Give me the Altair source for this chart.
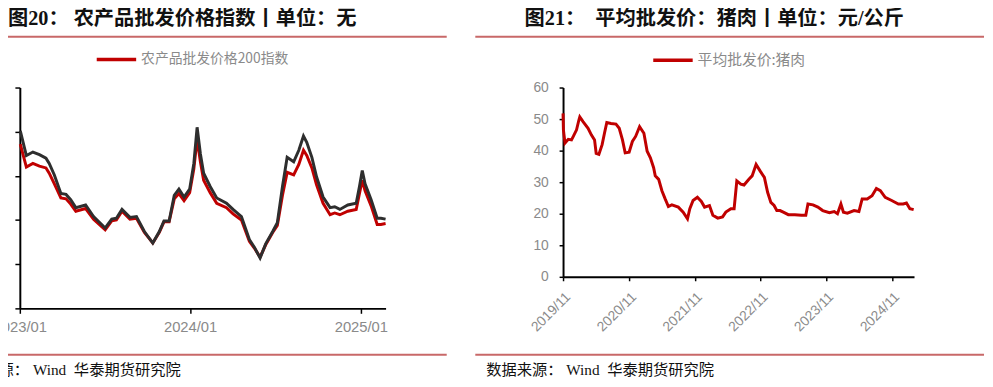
import altair as alt
import pandas as pd

# ---------------- data: left panel (农产品批发价格200指数) ----------------
idx_dates = [
    "2023-01-02", "2023-01-15", "2023-01-29", "2023-02-12", "2023-02-26", "2023-03-05",
    "2023-03-16", "2023-03-30", "2023-04-10", "2023-04-20", "2023-05-01", "2023-05-22",
    "2023-06-08", "2023-07-03", "2023-07-17", "2023-07-27", "2023-08-08", "2023-08-25",
    "2023-09-08", "2023-09-25", "2023-10-13", "2023-10-27", "2023-11-06", "2023-11-17",
    "2023-11-28", "2023-12-08", "2023-12-19", "2023-12-31", "2024-01-09", "2024-01-16",
    "2024-01-23", "2024-01-30", "2024-02-13", "2024-02-27", "2024-03-19", "2024-04-02",
    "2024-04-20", "2024-05-07", "2024-05-18", "2024-05-30", "2024-06-11", "2024-06-26",
    "2024-07-06", "2024-07-17", "2024-07-27", "2024-08-10", "2024-08-21", "2024-08-31",
    "2024-09-07", "2024-09-18", "2024-09-28", "2024-10-12", "2024-10-27", "2024-11-06",
    "2024-11-17", "2024-12-04", "2024-12-22", "2024-12-29", "2025-01-04", "2025-01-10",
    "2025-01-23", "2025-02-05", "2025-02-13", "2025-02-23",
]
idx_red = [
    128.6, 126.0, 126.4, 126.1, 125.9, 125.3,
    124.1, 122.5, 122.4, 121.8, 121.0, 121.3,
    120.1, 118.9, 119.9, 120.0, 121.0, 120.1,
    120.2, 118.6, 117.4, 118.6, 119.8, 119.8,
    122.4, 123.0, 122.2, 123.1, 125.8, 129.2,
    126.6, 124.5, 123.1, 121.9, 121.4, 120.7,
    120.0, 117.6, 116.8, 115.8, 117.2, 118.6,
    119.4, 122.8, 125.4, 125.1, 126.3, 127.9,
    127.3, 125.9, 124.0, 121.9, 120.6, 120.8,
    120.6, 121.0, 121.2, 123.0, 124.5, 123.3,
    121.6, 119.5, 119.5, 119.6,
]
idx_dark = [
    130.1, 127.3, 127.7, 127.4, 127.0, 126.4,
    125.1, 123.0, 122.9, 122.3, 121.4, 121.7,
    120.4, 119.1, 120.1, 120.2, 121.2, 120.3,
    120.4, 118.7, 117.4, 118.7, 119.9, 119.9,
    122.8, 123.5, 122.6, 123.5, 126.4, 130.5,
    127.5, 125.3, 123.8, 122.5, 121.9, 121.2,
    120.4, 117.8, 116.9, 115.7, 117.3, 118.7,
    119.7, 123.8, 127.1, 126.6, 127.9, 129.5,
    128.8, 127.1, 124.9, 122.6, 121.4, 121.5,
    121.2, 121.7, 121.9, 123.8, 125.6, 124.1,
    122.3, 120.2, 120.2, 120.1,
]
idx_yticks = [110, 115, 120, 125, 130, 135]

# ---------------- data: right panel (平均批发价:猪肉) ----------------
pork_dates = [
    "2019-11-01", "2019-11-03", "2019-11-12", "2019-11-30", "2019-12-18", "2019-12-28",
    "2020-01-15", "2020-01-28", "2020-02-02", "2020-02-20", "2020-03-19", "2020-04-06",
    "2020-04-24", "2020-05-03", "2020-05-18", "2020-06-05", "2020-06-18", "2020-07-01",
    "2020-07-24", "2020-08-21", "2020-09-08", "2020-09-26", "2020-10-11", "2020-11-02",
    "2020-11-20", "2020-12-08", "2020-12-30", "2021-01-23", "2021-02-10", "2021-02-28",
    "2021-03-18", "2021-03-27", "2021-04-15", "2021-05-03", "2021-05-21", "2021-06-08",
    "2021-06-27", "2021-08-02", "2021-08-29", "2021-09-22", "2021-10-05", "2021-10-23",
    "2021-11-16", "2021-12-08", "2021-12-26", "2022-01-22", "2022-02-10", "2022-03-09",
    "2022-04-05", "2022-04-23", "2022-05-21", "2022-06-08", "2022-06-23", "2022-07-15",
    "2022-08-02", "2022-08-29", "2022-09-16", "2022-10-08", "2022-10-31", "2022-11-23",
    "2022-12-11", "2022-12-29", "2023-01-16", "2023-01-31", "2023-02-18", "2023-03-08",
    "2023-04-05", "2023-05-11", "2023-06-17", "2023-07-11", "2023-07-23", "2023-08-20",
    "2023-09-16", "2023-10-13", "2023-11-19", "2023-12-16", "2024-01-03", "2024-01-22",
    "2024-02-05", "2024-02-27", "2024-04-04", "2024-05-01", "2024-05-19", "2024-06-16",
    "2024-07-13", "2024-08-06", "2024-08-28", "2024-09-24", "2024-10-30", "2024-12-06",
    "2025-01-02", "2025-01-20", "2025-02-08", "2025-03-01",
]
pork_price = [
    51.8, 46.6, 42.4, 43.6, 43.4, 44.5,
    46.6, 49.7, 50.7, 49.2, 47.1, 45.0,
    43.4, 39.1, 38.8, 41.9, 45.5, 48.9,
    48.6, 48.4, 47.1, 43.4, 39.3, 39.5,
    42.9, 44.5, 47.6, 45.5, 39.8, 37.7,
    34.6, 32.0, 30.9, 27.3, 24.7, 22.3,
    22.8, 22.1, 20.5, 18.4, 21.6, 24.2,
    25.2, 23.9, 22.1, 22.6, 19.5, 18.6,
    19.0, 20.5, 21.6, 21.6, 30.4, 29.4,
    29.1, 30.9, 32.0, 35.6, 33.5, 31.5,
    26.8, 23.6, 22.6, 21.0, 21.0, 20.5,
    19.7, 19.7, 19.5, 19.5, 23.1, 22.8,
    22.1, 21.0, 20.3, 20.7, 20.0, 23.1,
    20.5, 20.2, 21.0, 20.7, 24.7, 24.7,
    25.7, 28.0, 27.3, 25.2, 24.2, 23.1,
    23.1, 23.4, 21.6, 21.3,
]
pork_yticks = [0, 10, 20, 30, 40, 50, 60]
pork_xtick_years = [2019, 2020, 2021, 2022, 2023, 2024]

# ---------------- texts (\u00a0 keeps the wide gaps) ----------------
NB = "\u00a0"
LEFT_TITLE = "图20：" + NB + "农产品批发价格指数丨单位：无"
RIGHT_TITLE = "图21：" + NB * 2 + "平均批发价：猪肉丨单位：元/公斤"
SOURCE = "数据来源：" + NB + "Wind" + NB * 2 + "华泰期货研究院"
LEFT_SERIES = "农产品批发价格200指数"
RIGHT_SERIES = "平均批发价:猪肉"

# ---------------- styles ----------------
RED = "#c00000"
DARK = "#2e2e2e"
RULE = "#c86868"
GRAY = "#8a8a8a"
TITLE_FONT = "Liberation Serif, Noto Sans CJK SC"
AXIS_FONT = "Liberation Sans"
CJK_FONT = "Noto Sans CJK SC"
DATE_LABEL = "utcFormat(datum.value, '%Y/%m')"

LW, LH = 371, 224   # left plot area
RW, RH = 356, 192   # right plot area


def one(text=""):
    return pd.DataFrame({"t": [text]})


def decorations(title, title_x, rule_x1, rule_x2, src_x, anchor_x):
    title_mark = alt.Chart(one(title)).mark_text(
        align="left", baseline="middle", font=TITLE_FONT, fontSize=20.5,
        fontWeight="bold", color="#111111"
    ).encode(x=alt.value(title_x), y=alt.value(-69), text="t:N")
    top_rule = alt.Chart(one()).mark_rule(color=RULE, strokeWidth=2).encode(
        x=alt.value(rule_x1), x2=alt.value(rule_x2), y=alt.value(-51.5))
    bottom_rule = alt.Chart(one()).mark_rule(color=RULE, strokeWidth=2).encode(
        x=alt.value(rule_x1), x2=alt.value(rule_x2), y=alt.value(271))
    src = alt.Chart(one(SOURCE)).mark_text(
        align="left", baseline="middle", font=TITLE_FONT, fontSize=15.5, color="#111111"
    ).encode(x=alt.value(src_x), y=alt.value(286.5), text="t:N")
    anchor = alt.Chart(one()).mark_rule(strokeOpacity=0, color="white").encode(
        x=alt.value(anchor_x), y=alt.value(-80), y2=alt.value(294))
    return [anchor, title_mark, top_rule, bottom_rule, src]


# ---------------- left panel ----------------
df_l = pd.DataFrame({"date": idx_dates, "red": idx_red, "dark": idx_dark,
                     "series": LEFT_SERIES})

x_l = alt.X(
    "date:T",
    scale=alt.Scale(type="utc", domain=[alt.DateTime(year=2023, month=1, date=1, utc=True),
                                        alt.DateTime(year=2025, month=2, date=23, utc=True)]),
    axis=alt.Axis(
        title=None, labelExpr=DATE_LABEL,
        values=[alt.DateTime(year=y, month=1, date=1, utc=True) for y in (2023, 2024, 2025)],
        labelFontSize=15, labelPadding=6, labelAlign="center", tickSize=5,
        domainWidth=2, tickWidth=1.5, grid=False,
    ),
)
y_scale_l = alt.Scale(domain=[110, 135], nice=False, zero=False)
y_axis_l = alt.Axis(title=None, values=idx_yticks, labels=False, tickSize=5,
                    domainWidth=2, tickWidth=1.5, grid=False)

red_line = alt.Chart(df_l).mark_line(strokeWidth=3).encode(
    x=x_l,
    y=alt.Y("red:Q", scale=y_scale_l, axis=y_axis_l),
    color=alt.Color(
        "series:N",
        scale=alt.Scale(domain=[LEFT_SERIES], range=[RED]),
        legend=alt.Legend(
            title=None, orient="none", legendX=76, legendY=-50.5,
            symbolType="stroke", symbolSize=1600, symbolStrokeWidth=3.5,
            labelFontSize=14, labelColor=GRAY, labelFont=CJK_FONT,
            labelOffset=3, padding=0,
        ),
    ),
)
dark_line = alt.Chart(df_l).mark_line(strokeWidth=3, color=DARK).encode(
    x=x_l, y=alt.Y("dark:Q", scale=y_scale_l, axis=y_axis_l))

left = alt.layer(
    *decorations(LEFT_TITLE, -12, -15, 433, -68, -70),
    red_line, dark_line,
).properties(width=LW, height=LH)

# ---------------- right panel ----------------
df_r = pd.DataFrame({"date": pork_dates, "price": pork_price, "series": RIGHT_SERIES})

pork_line = alt.Chart(df_r).mark_line(strokeWidth=3).encode(
    x=alt.X(
        "date:T",
        scale=alt.Scale(type="utc", domain=[alt.DateTime(year=2019, month=11, date=1, utc=True),
                                            alt.DateTime(year=2025, month=3, date=3, utc=True)]),
        axis=alt.Axis(
            title=None, labelExpr=DATE_LABEL,
            values=[alt.DateTime(year=y, month=11, date=1, utc=True) for y in pork_xtick_years],
            labelAngle=315, labelFontSize=14, labelPadding=9, tickSize=4,
            domainWidth=2, tickWidth=1.5, grid=False,
        ),
    ),
    y=alt.Y(
        "price:Q",
        scale=alt.Scale(domain=[0, 60], nice=False),
        axis=alt.Axis(title=None, values=pork_yticks, labelFontSize=14, labelPadding=11,
                      tickSize=4, domainWidth=2, tickWidth=1.5, grid=False),
    ),
    color=alt.Color(
        "series:N",
        scale=alt.Scale(domain=[RIGHT_SERIES], range=[RED]),
        legend=alt.Legend(
            title=None, orient="none", legendX=89.5, legendY=-49.7,
            symbolType="stroke", symbolSize=1600, symbolStrokeWidth=3.5,
            labelFontSize=15, labelColor=GRAY, labelFont=CJK_FONT,
            labelOffset=3, padding=0,
        ),
    ),
)

right = alt.layer(
    *decorations(RIGHT_TITLE, -39, -89, 427, -78, -90),
    pork_line,
).properties(width=RW, height=RH)

chart = alt.hconcat(left, right, spacing=27).resolve_scale(
    color="independent"
).properties(
    padding={"left": -58, "top": -2, "right": 0, "bottom": 0}
).configure_view(stroke=None).configure_axis(
    domainColor="#000000", tickColor="#000000", labelColor=GRAY, labelFont=AXIS_FONT,
)

chart.save("out.html", embed_options={"renderer": "svg", "actions": False})
